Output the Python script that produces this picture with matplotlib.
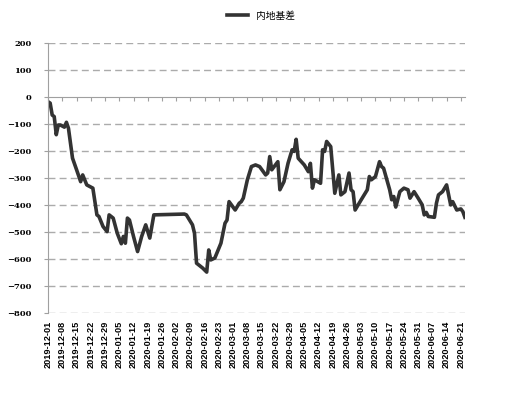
"""
内地基差 折线图
"""

import matplotlib.pyplot as plt
import matplotlib.dates as mdates
import pandas as pd

plt.rcParams['font.family'] = ['Noto Sans CJK SC', 'DejaVu Sans']

# 日期与基差值
dates = ['2019-12-01', '2019-12-02', '2019-12-03', '2019-12-04', '2019-12-05', '2019-12-06',
         '2019-12-07', '2019-12-09', '2019-12-10', '2019-12-11', '2019-12-13', '2019-12-15',
         '2019-12-17', '2019-12-18', '2019-12-20', '2019-12-23', '2019-12-25', '2019-12-26',
         '2019-12-28', '2019-12-30', '2019-12-31', '2020-01-02', '2020-01-04', '2020-01-06',
         '2020-01-07', '2020-01-08', '2020-01-09', '2020-01-10', '2020-01-12', '2020-01-14',
         '2020-01-16', '2020-01-18', '2020-01-20', '2020-01-22', '2020-02-06', '2020-02-07',
         '2020-02-10', '2020-02-11', '2020-02-12', '2020-02-15', '2020-02-17', '2020-02-18',
         '2020-02-19', '2020-02-21', '2020-02-24', '2020-02-26', '2020-02-27', '2020-02-28',
         '2020-03-02', '2020-03-04', '2020-03-05', '2020-03-06', '2020-03-08', '2020-03-10',
         '2020-03-12', '2020-03-14', '2020-03-17', '2020-03-18', '2020-03-19', '2020-03-20',
         '2020-03-23', '2020-03-24', '2020-03-26', '2020-03-28', '2020-03-30', '2020-03-31',
         '2020-04-01', '2020-04-02', '2020-04-05', '2020-04-07', '2020-04-08', '2020-04-09',
         '2020-04-10', '2020-04-13', '2020-04-14', '2020-04-15', '2020-04-16', '2020-04-18',
         '2020-04-20', '2020-04-22', '2020-04-23', '2020-04-25', '2020-04-27', '2020-04-28',
         '2020-04-29', '2020-04-30', '2020-05-03', '2020-05-06', '2020-05-07', '2020-05-08',
         '2020-05-10', '2020-05-12', '2020-05-13', '2020-05-14', '2020-05-17', '2020-05-18',
         '2020-05-19', '2020-05-20', '2020-05-22', '2020-05-24', '2020-05-26', '2020-05-27',
         '2020-05-29', '2020-05-31', '2020-06-02', '2020-06-03', '2020-06-04', '2020-06-05',
         '2020-06-08', '2020-06-09', '2020-06-10', '2020-06-12', '2020-06-14', '2020-06-16',
         '2020-06-17', '2020-06-19', '2020-06-21', '2020-06-22', '2020-06-23']
basis = [-18, -23, -67, -73, -140, -104,
         -104, -112, -94, -116, -227, -270,
         -314, -289, -326, -338, -437, -443,
         -480, -499, -437, -449, -505, -544,
         -517, -542, -449, -456, -517, -573,
         -517, -474, -523, -437, -434, -437,
         -474, -505, -616, -634, -649, -567,
         -604, -597, -542, -468, -456, -388,
         -419, -394, -388, -375, -307, -258,
         -252, -258, -289, -282, -221, -270,
         -240, -344, -314, -246, -196, -202,
         -157, -227, -252, -277, -246, -338,
         -307, -320, -196, -202, -165, -184,
         -357, -289, -363, -351, -282, -344,
         -351, -419, -381, -344, -295, -307,
         -295, -240, -258, -264, -344, -381,
         -369, -408, -351, -338, -344, -375,
         -351, -375, -400, -437, -428, -443,
         -446, -394, -363, -351, -326, -400,
         -388, -419, -415, -425, -446]

x = pd.to_datetime(dates)

fig = plt.figure(figsize=(5.12, 3.94), dpi=100)
ax = fig.add_axes([0.094, 0.206, 0.814, 0.685])

ax.plot(x, basis, color='#333333', linewidth=2.6, label='内地基差')

ax.set_ylim(-800, 200)
ax.set_yticks(range(-800, 201, 100))
ax.set_xlim(pd.Timestamp('2019-12-01'), pd.Timestamp('2020-06-23'))
ax.set_xticks(pd.date_range('2019-12-01', '2020-06-21', freq='7D'))
ax.xaxis.set_major_formatter(mdates.DateFormatter('%Y-%m-%d'))

# 网格线
for v in range(-800, 201, 100):
    if v != 0:
        ax.axhline(v, color='#ababab', linewidth=1, linestyle=(0, (5, 3)), zorder=0)

for s in ['top', 'right']:
    ax.spines[s].set_visible(False)
ax.spines['left'].set_color('#a0a0a0')
ax.spines['bottom'].set_color('#a0a0a0')
ax.spines['bottom'].set_position(('data', 0))

ax.tick_params(axis='y', length=3, color='#a0a0a0', pad=9)
ax.tick_params(axis='x', length=3, color='#a0a0a0', pad=158, rotation=90)
for t in ax.get_yticklabels():
    t.set_fontfamily('DejaVu Serif')
    t.set_fontweight('bold')
    t.set_fontsize(6)
for t in ax.get_xticklabels():
    t.set_fontfamily('Liberation Sans')
    t.set_fontweight('bold')
    t.set_fontsize(6.6)
    t.set_verticalalignment('top')

fig.legend(loc='upper center', bbox_to_anchor=(0.51, 0.995), frameon=False,
           fontsize=7, handlelength=2.2)

plt.savefig('out.png', dpi=100)
